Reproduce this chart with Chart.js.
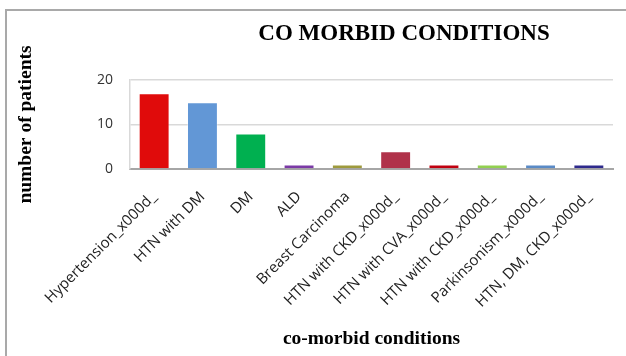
<!DOCTYPE html>
<html>
<head>
<meta charset="utf-8">
<script src="https://cdn.jsdelivr.net/npm/chart.js@4"></script>
<style>
  html, body { margin: 0; padding: 0; background: #fff; overflow: hidden; }
  #wrap { position: relative; width: 626px; height: 356px; }
  #frame { position: absolute; left: 5px; top: 9px; width: 700px; height: 400px;
           border-top: 2px solid #a9a9a9; border-left: 2px solid #a9a9a9; }
  canvas { position: absolute; left: 0; top: 0; }
</style>
</head>
<body>
<div id="wrap">
  <div id="frame"></div>
  <canvas id="chart" width="626" height="356"></canvas>
</div>
<script>
// Co-morbid conditions and patient counts
const conditions = [
  'Hypertension_x000d_', 'HTN with DM', 'DM', 'ALD', 'Breast Carcinoma',
  'HTN with CKD_x000d_', 'HTN with CVA_x000d_', 'HTN with CKD_x000d_',
  'Parkinsonism_x000d_', 'HTN, DM, CKD_x000d_'
];
const patients = [17, 15, 8, 1, 1, 4, 1, 1, 1, 1];
const barColors = [
  '#e00b0b', '#6297d6', '#00b050', '#7b3aa6', '#9e9a3c',
  '#b0324a', '#c00010', '#92d050', '#5a8ac6', '#2e2a8c'
];
const yTicks = [0, 10, 20];

const chartTitle = 'CO MORBID CONDITIONS';

// Main heading, drawn right of centre above the plot
const headingPlugin = {
  id: 'heading',
  afterDraw(chart) {
    const ctx = chart.ctx;
    ctx.save();
    ctx.font = 'bold 23px "Liberation Serif", "Times New Roman", serif';
    ctx.fillStyle = '#000';
    ctx.textAlign = 'center';
    ctx.textBaseline = 'alphabetic';
    ctx.fillText(chartTitle, 404, 40);
    ctx.restore();
  }
};

new Chart(document.getElementById('chart'), {
  type: 'bar',
  data: {
    labels: conditions,
    datasets: [{
      data: patients,
      backgroundColor: barColors,
      borderColor: 'rgba(255,255,255,0.35)',
      borderWidth: 1,
      categoryPercentage: 1.0,
      barPercentage: 0.64
    }]
  },
  options: {
    responsive: false,
    animation: false,
    layout: { padding: { left: 10, top: 80, right: 13, bottom: 0 } },
    plugins: {
      legend: { display: false },
      tooltip: { enabled: false },
      title: { display: false }
    },
    scales: {
      x: {
        grid: { display: false },
        border: { display: true, color: '#a6a6a6', width: 2 },
        ticks: {
          autoSkip: false,
          minRotation: 45,
          maxRotation: 45,
          padding: 11,
          color: '#222',
          font: { family: '"Open Sans", sans-serif', size: 15 }
        },
        title: {
          display: true,
          text: 'co-morbid conditions',
          color: '#000',
          font: { family: '"Liberation Serif", "Times New Roman", serif', size: 19.5, weight: 'bold' },
          padding: { top: 0, bottom: 5 }
        },
        afterFit(scale) { scale.height = 187; }
      },
      y: {
        min: 0,
        max: 20,
        afterBuildTicks(scale) { scale.ticks = yTicks.map(v => ({ value: v })); },
        grid: {
          drawTicks: false,
          color: '#d9d9d9',
          lineWidth: 1.5
        },
        border: { display: true, color: '#d9d9d9', width: 1.5 },
        ticks: {
          padding: 17,
          color: '#333',
          font: { family: '"Open Sans", sans-serif', size: 14 }
        },
        title: {
          display: true,
          text: 'number of patients',
          color: '#000',
          font: { family: '"Liberation Serif", "Times New Roman", serif', size: 19.5, weight: 'bold' },
          padding: { top: 4, bottom: 0 }
        },
        afterFit(scale) { scale.width = 120; }
      }
    }
  },
  plugins: [headingPlugin]
});
</script>
</body>
</html>
